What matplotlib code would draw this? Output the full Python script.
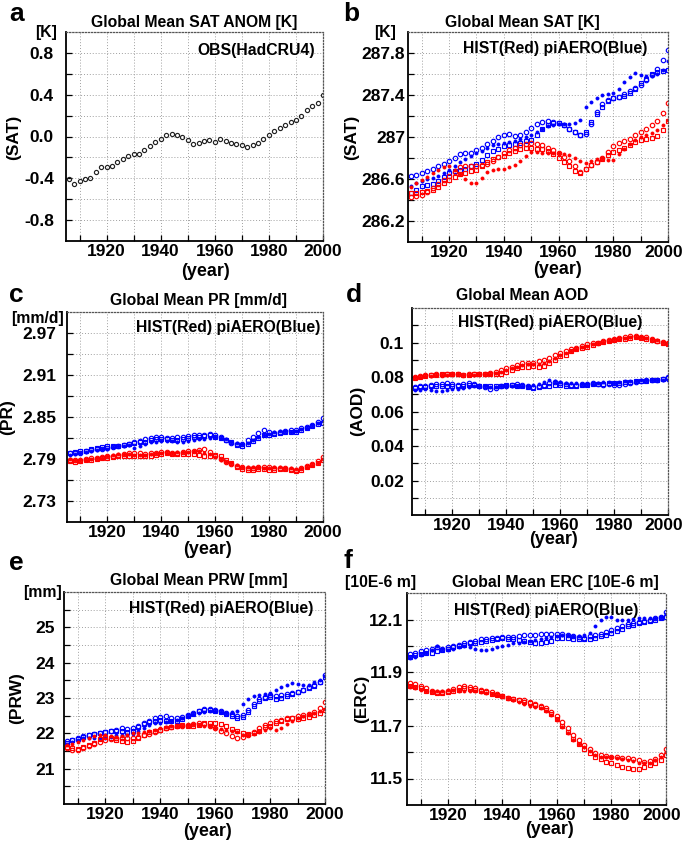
import matplotlib
matplotlib.use('Agg')
import matplotlib.pyplot as plt
from matplotlib.transforms import ScaledTranslation

plt.rcParams['font.family'] = ['Liberation Sans', 'DejaVu Sans']
plt.rcParams['font.weight'] = 'bold'

W, H = 685, 842
years = list(range(1906, 2001, 2))

# a: observed SAT anomaly
obs_sat = [-0.41, -0.45, -0.43, -0.41, -0.40, -0.34, -0.29, -0.29, -0.28, -0.24,
           -0.22, -0.19, -0.17, -0.17, -0.13, -0.09, -0.05, -0.02, 0.01, 0.02,
           0.01, 0.00, -0.03, -0.07, -0.06, -0.04, -0.03, -0.05, -0.02, -0.04,
           -0.06, -0.07, -0.08, -0.10, -0.08, -0.06, -0.02, 0.01, 0.05, 0.08,
           0.11, 0.14, 0.16, 0.20, 0.25, 0.29, 0.32, 0.40]

# b: SAT [K]
sat_hist = [
    [286.43, 286.44, 286.45, 286.48, 286.51, 286.55, 286.59, 286.63, 286.67, 286.71,
     286.72, 286.72, 286.72, 286.73, 286.74, 286.77, 286.81, 286.85, 286.88, 286.90,
     286.92, 286.93, 286.94, 286.93, 286.92, 286.90, 286.88, 286.85, 286.81, 286.77,
     286.72, 286.67, 286.70, 286.73, 286.76, 286.80, 286.86, 286.91, 286.94, 286.96,
     286.98, 287.02, 287.05, 287.08, 287.11, 287.15, 287.23, 287.32],
    [286.47, 286.47, 286.48, 286.49, 286.50, 286.52, 286.56, 286.59, 286.62, 286.65,
     286.66, 286.68, 286.69, 286.72, 286.76, 286.79, 286.81, 286.82, 286.85, 286.87,
     286.89, 286.90, 286.90, 286.89, 286.89, 286.87, 286.84, 286.80, 286.76, 286.72,
     286.68, 286.66, 286.70, 286.73, 286.76, 286.79, 286.83, 286.86, 286.88, 286.90,
     286.92, 286.95, 286.97, 286.98, 286.99, 287.01, 287.07, 287.15],
    [286.52, 286.56, 286.59, 286.62, 286.66, 286.69, 286.71, 286.72, 286.69, 286.65,
     286.60, 286.56, 286.56, 286.61, 286.67, 286.69, 286.70, 286.70, 286.71, 286.73,
     286.77, 286.82, 286.86, 286.86, 286.85, 286.85, 286.85, 286.85, 286.84, 286.83,
     286.80, 286.77, 286.75, 286.77, 286.79, 286.80, 286.78, 286.78, 286.84, 286.89,
     286.93, 286.97, 287.00, 287.02, 287.04, 287.07, 287.11, 287.16]]
sat_piaero = [
    [286.63, 286.64, 286.66, 286.68, 286.70, 286.72, 286.74, 286.77, 286.80, 286.84,
     286.85, 286.85, 286.88, 286.90, 286.93, 286.96, 287.00, 287.02, 287.03, 287.01,
     287.02, 287.05, 287.09, 287.12, 287.14, 287.15, 287.14, 287.13, 287.11, 287.08,
     287.05, 287.02, 287.03, 287.12, 287.24, 287.31, 287.35, 287.37, 287.38, 287.41,
     287.44, 287.47, 287.50, 287.54, 287.59, 287.65, 287.73, 287.83],
    [286.47, 286.50, 286.53, 286.54, 286.55, 286.58, 286.62, 286.66, 286.68, 286.69,
     286.70, 286.72, 286.74, 286.78, 286.83, 286.87, 286.89, 286.91, 286.92, 286.93,
     286.94, 286.96, 286.97, 287.02, 287.08, 287.11, 287.13, 287.13, 287.11, 287.08,
     287.05, 287.02, 287.05, 287.14, 287.22, 287.29, 287.34, 287.37, 287.38, 287.39,
     287.42, 287.46, 287.51, 287.55, 287.60, 287.62, 287.63, 287.64],
    [286.53, 286.56, 286.58, 286.60, 286.61, 286.63, 286.66, 286.69, 286.72, 286.76,
     286.79, 286.82, 286.85, 286.87, 286.90, 286.92, 286.93, 286.94, 286.95, 286.96,
     286.98, 287.00, 287.02, 287.05, 287.08, 287.10, 287.11, 287.12, 287.12, 287.12,
     287.13, 287.16, 287.29, 287.33, 287.37, 287.40, 287.41, 287.42, 287.46, 287.52,
     287.57, 287.61, 287.59, 287.58, 287.58, 287.60, 287.64, 287.72]]

# c: PR [mm/d]
pr_hist = [
    [2.789, 2.788, 2.789, 2.790, 2.791, 2.792, 2.793, 2.794, 2.795, 2.796,
     2.797, 2.798, 2.799, 2.798, 2.797, 2.798, 2.799, 2.800, 2.800, 2.799,
     2.799, 2.800, 2.801, 2.802, 2.803, 2.804, 2.800, 2.795, 2.790, 2.786,
     2.783, 2.780, 2.778, 2.777, 2.777, 2.778, 2.779, 2.778, 2.777, 2.777,
     2.777, 2.776, 2.775, 2.777, 2.780, 2.783, 2.787, 2.793],
    [2.787, 2.786, 2.787, 2.788, 2.789, 2.790, 2.791, 2.792, 2.793, 2.794,
     2.795, 2.795, 2.795, 2.794, 2.794, 2.795, 2.796, 2.797, 2.798, 2.797,
     2.797, 2.797, 2.797, 2.797, 2.796, 2.795, 2.795, 2.796, 2.794, 2.789,
     2.784, 2.779, 2.776, 2.775, 2.775, 2.776, 2.776, 2.775, 2.775, 2.776,
     2.776, 2.775, 2.773, 2.775, 2.778, 2.781, 2.785, 2.789],
    [2.790, 2.789, 2.789, 2.789, 2.790, 2.791, 2.792, 2.794, 2.796, 2.797,
     2.797, 2.797, 2.796, 2.796, 2.796, 2.797, 2.798, 2.799, 2.799, 2.799,
     2.800, 2.800, 2.800, 2.801, 2.801, 2.799, 2.797, 2.793, 2.789, 2.786,
     2.784, 2.781, 2.779, 2.778, 2.778, 2.778, 2.777, 2.777, 2.778, 2.778,
     2.777, 2.777, 2.776, 2.777, 2.779, 2.782, 2.785, 2.790]]
pr_piaero = [
    [2.798, 2.798, 2.799, 2.801, 2.803, 2.805, 2.805, 2.806, 2.807, 2.809,
     2.810, 2.811, 2.814, 2.816, 2.818, 2.820, 2.821, 2.821, 2.820, 2.820,
     2.821, 2.822, 2.823, 2.824, 2.825, 2.825, 2.826, 2.824, 2.821, 2.817,
     2.813, 2.811, 2.812, 2.817, 2.822, 2.827, 2.832, 2.828, 2.827, 2.829,
     2.830, 2.831, 2.832, 2.834, 2.836, 2.839, 2.843, 2.848],
    [2.799, 2.800, 2.801, 2.802, 2.804, 2.806, 2.807, 2.808, 2.808, 2.809,
     2.810, 2.812, 2.813, 2.814, 2.815, 2.817, 2.818, 2.819, 2.818, 2.817,
     2.817, 2.818, 2.820, 2.821, 2.822, 2.823, 2.824, 2.822, 2.820, 2.817,
     2.814, 2.810, 2.808, 2.812, 2.816, 2.820, 2.824, 2.825, 2.826, 2.827,
     2.828, 2.828, 2.829, 2.831, 2.834, 2.837, 2.840, 2.842],
    [2.796, 2.797, 2.798, 2.800, 2.802, 2.803, 2.804, 2.805, 2.807, 2.808,
     2.809, 2.810, 2.806, 2.809, 2.812, 2.814, 2.815, 2.816, 2.816, 2.816,
     2.815, 2.815, 2.816, 2.817, 2.818, 2.819, 2.820, 2.821, 2.820, 2.818,
     2.815, 2.813, 2.811, 2.813, 2.817, 2.821, 2.824, 2.826, 2.828, 2.830,
     2.830, 2.829, 2.830, 2.833, 2.835, 2.838, 2.841, 2.844]]

# d: AOD
aod_hist = [
    [0.0800, 0.0805, 0.0810, 0.0810, 0.0815, 0.0810, 0.0815, 0.0820, 0.0820, 0.0810,
     0.0815, 0.0820, 0.0820, 0.0820, 0.0825, 0.0830, 0.0840, 0.0850, 0.0860, 0.0870,
     0.0880, 0.0880, 0.0880, 0.0890, 0.0900, 0.0910, 0.0930, 0.0940, 0.0950, 0.0960,
     0.0970, 0.0980, 0.0990, 0.0995, 0.1000, 0.1010, 0.1015, 0.1020, 0.1025, 0.1030,
     0.1035, 0.1035, 0.1030, 0.1030, 0.1020, 0.1010, 0.1005, 0.1000],
    [0.0795, 0.0800, 0.0805, 0.0810, 0.0810, 0.0815, 0.0820, 0.0820, 0.0815, 0.0810,
     0.0810, 0.0815, 0.0820, 0.0820, 0.0820, 0.0820, 0.0820, 0.0830, 0.0840, 0.0855,
     0.0860, 0.0860, 0.0865, 0.0860, 0.0865, 0.0880, 0.0900, 0.0920, 0.0930, 0.0950,
     0.0960, 0.0970, 0.0975, 0.0985, 0.0995, 0.1005, 0.1010, 0.1015, 0.1020, 0.1020,
     0.1025, 0.1030, 0.1025, 0.1020, 0.1015, 0.1010, 0.1000, 0.0990],
    [0.0800, 0.0800, 0.0805, 0.0805, 0.0810, 0.0810, 0.0810, 0.0815, 0.0815, 0.0810,
     0.0810, 0.0810, 0.0815, 0.0815, 0.0820, 0.0825, 0.0830, 0.0840, 0.0850, 0.0860,
     0.0870, 0.0875, 0.0875, 0.0875, 0.0880, 0.0890, 0.0910, 0.0930, 0.0940, 0.0950,
     0.0965, 0.0975, 0.0980, 0.0990, 0.1000, 0.1005, 0.1010, 0.1020, 0.1020, 0.1025,
     0.1030, 0.1030, 0.1030, 0.1025, 0.1020, 0.1015, 0.1005, 0.0995]]
aod_piaero = [
    [0.0740, 0.0745, 0.0750, 0.0755, 0.0760, 0.0760, 0.0765, 0.0760, 0.0755, 0.0760,
     0.0765, 0.0760, 0.0750, 0.0740, 0.0730, 0.0735, 0.0745, 0.0750, 0.0755, 0.0760,
     0.0755, 0.0745, 0.0740, 0.0745, 0.0755, 0.0765, 0.0770, 0.0765, 0.0760, 0.0755,
     0.0755, 0.0760, 0.0760, 0.0765, 0.0760, 0.0755, 0.0760, 0.0755, 0.0755, 0.0760,
     0.0765, 0.0770, 0.0775, 0.0780, 0.0780, 0.0785, 0.0790, 0.0800],
    [0.0735, 0.0740, 0.0740, 0.0745, 0.0750, 0.0750, 0.0750, 0.0750, 0.0750, 0.0750,
     0.0755, 0.0755, 0.0750, 0.0745, 0.0745, 0.0745, 0.0750, 0.0755, 0.0755, 0.0750,
     0.0745, 0.0740, 0.0735, 0.0740, 0.0745, 0.0750, 0.0755, 0.0755, 0.0750, 0.0745,
     0.0750, 0.0755, 0.0755, 0.0760, 0.0760, 0.0760, 0.0765, 0.0765, 0.0765, 0.0770,
     0.0770, 0.0775, 0.0775, 0.0775, 0.0780, 0.0785, 0.0790, 0.0795],
    [0.0725, 0.0725, 0.0730, 0.0725, 0.0720, 0.0720, 0.0725, 0.0730, 0.0730, 0.0735,
     0.0740, 0.0745, 0.0745, 0.0745, 0.0740, 0.0740, 0.0745, 0.0745, 0.0750, 0.0750,
     0.0750, 0.0750, 0.0755, 0.0760, 0.0770, 0.0780, 0.0775, 0.0770, 0.0765, 0.0765,
     0.0765, 0.0760, 0.0760, 0.0760, 0.0765, 0.0770, 0.0770, 0.0765, 0.0770, 0.0775,
     0.0775, 0.0775, 0.0780, 0.0780, 0.0785, 0.0780, 0.0780, 0.0780]]

# e: PRW [mm]
prw_hist = [
    [21.58, 21.54, 21.52, 21.58, 21.64, 21.70, 21.76, 21.80, 21.84, 21.86,
     21.86, 21.86, 21.86, 21.90, 21.94, 21.98, 22.04, 22.10, 22.14, 22.18,
     22.20, 22.22, 22.24, 22.26, 22.28, 22.26, 22.22, 22.16, 22.08, 22.00,
     21.92, 21.86, 21.90, 21.96, 22.04, 22.14, 22.24, 22.30, 22.34, 22.38,
     22.42, 22.44, 22.48, 22.52, 22.56, 22.60, 22.72, 22.88],
    [21.62, 21.58, 21.56, 21.60, 21.66, 21.74, 21.84, 21.90, 21.88, 21.82,
     21.78, 21.76, 21.78, 21.86, 21.96, 22.04, 22.08, 22.10, 22.14, 22.18,
     22.22, 22.24, 22.22, 22.20, 22.24, 22.28, 22.30, 22.30, 22.26, 22.20,
     22.12, 22.06, 22.00, 21.98, 22.00, 22.08, 22.18, 22.22, 22.28, 22.34,
     22.40, 22.42, 22.40, 22.42, 22.46, 22.52, 22.58, 22.66],
    [21.66, 21.70, 21.76, 21.82, 21.88, 21.92, 21.94, 21.94, 21.92, 21.90,
     21.92, 21.96, 22.00, 22.02, 22.04, 22.06, 22.10, 22.14, 22.18, 22.20,
     22.20, 22.22, 22.24, 22.26, 22.24, 22.22, 22.20, 22.16, 22.12, 22.10,
     22.08, 22.04, 21.96, 21.94, 21.98, 22.04, 22.10, 22.14, 22.10, 22.16,
     22.26, 22.36, 22.44, 22.50, 22.54, 22.58, 22.62, 22.70]]
prw_piaero = [
    [21.78, 21.82, 21.88, 21.92, 21.96, 21.99, 22.02, 22.04, 22.06, 22.10,
     22.14, 22.12, 22.14, 22.20, 22.28, 22.36, 22.42, 22.46, 22.48, 22.44,
     22.42, 22.46, 22.52, 22.58, 22.64, 22.68, 22.68, 22.66, 22.62, 22.58,
     22.54, 22.48, 22.52, 22.66, 22.84, 22.96, 23.04, 23.08, 23.06, 23.08,
     23.12, 23.14, 23.18, 23.24, 23.30, 23.36, 23.46, 23.64],
    [21.74, 21.80, 21.84, 21.90, 21.94, 21.98, 22.02, 22.04, 22.06, 22.08,
     22.06, 22.04, 22.08, 22.18, 22.26, 22.32, 22.36, 22.38, 22.36, 22.34,
     22.34, 22.40, 22.48, 22.56, 22.62, 22.66, 22.66, 22.64, 22.60, 22.56,
     22.50, 22.44, 22.46, 22.60, 22.78, 22.92, 23.00, 23.02, 22.96, 23.00,
     23.06, 23.10, 23.16, 23.22, 23.28, 23.34, 23.44, 23.60],
    [21.70, 21.76, 21.82, 21.86, 21.88, 21.88, 21.86, 21.86, 21.90, 21.94,
     21.96, 21.96, 21.98, 22.06, 22.16, 22.24, 22.28, 22.30, 22.32, 22.34,
     22.38, 22.42, 22.48, 22.54, 22.58, 22.60, 22.62, 22.62, 22.60, 22.58,
     22.60, 22.64, 22.84, 22.98, 23.06, 23.08, 23.10, 23.14, 23.22, 23.30,
     23.38, 23.42, 23.40, 23.36, 23.38, 23.44, 23.52, 23.62]]

# f: ERC [10E-6 m]
erc_hist = [
    [11.862, 11.855, 11.848, 11.840, 11.832, 11.826, 11.825, 11.830, 11.838, 11.845,
     11.848, 11.845, 11.840, 11.835, 11.830, 11.825, 11.820, 11.812, 11.805, 11.800,
     11.798, 11.795, 11.790, 11.782, 11.775, 11.765, 11.750, 11.735, 11.715, 11.690,
     11.665, 11.645, 11.625, 11.610, 11.598, 11.590, 11.585, 11.582, 11.580, 11.578,
     11.578, 11.575, 11.568, 11.562, 11.565, 11.575, 11.590, 11.612],
    [11.850, 11.845, 11.840, 11.832, 11.825, 11.822, 11.822, 11.825, 11.830, 11.835,
     11.840, 11.838, 11.834, 11.830, 11.826, 11.820, 11.815, 11.810, 11.805, 11.800,
     11.795, 11.790, 11.785, 11.778, 11.770, 11.760, 11.745, 11.725, 11.700, 11.675,
     11.650, 11.630, 11.612, 11.595, 11.582, 11.572, 11.563, 11.557, 11.550, 11.545,
     11.540, 11.535, 11.535, 11.542, 11.550, 11.558, 11.570, 11.590],
    [11.845, 11.840, 11.835, 11.830, 11.830, 11.830, 11.832, 11.835, 11.835, 11.832,
     11.830, 11.830, 11.830, 11.828, 11.824, 11.820, 11.815, 11.810, 11.804, 11.798,
     11.790, 11.782, 11.775, 11.770, 11.765, 11.755, 11.740, 11.720, 11.695, 11.670,
     11.645, 11.630, 11.620, 11.605, 11.590, 11.583, 11.580, 11.582, 11.578, 11.575,
     11.570, 11.565, 11.560, 11.558, 11.560, 11.570, 11.582, 11.600]]
erc_piaero = [
    [11.970, 11.975, 11.980, 11.985, 11.990, 11.995, 11.990, 11.995, 12.000, 12.005,
     12.010, 12.015, 12.020, 12.025, 12.028, 12.030, 12.032, 12.033, 12.033, 12.035,
     12.038, 12.040, 12.042, 12.043, 12.044, 12.045, 12.046, 12.046, 12.044, 12.040,
     12.036, 12.034, 12.032, 12.036, 12.040, 12.045, 12.052, 12.060, 12.068, 12.075,
     12.082, 12.088, 12.092, 12.096, 12.100, 12.104, 12.110, 12.130],
    [11.960, 11.965, 11.970, 11.972, 11.975, 11.980, 11.985, 11.990, 11.995, 12.000,
     12.005, 12.010, 12.012, 12.015, 12.018, 12.022, 12.026, 12.030, 12.028, 12.025,
     12.022, 12.018, 12.015, 12.012, 12.012, 12.015, 12.020, 12.030, 12.032, 12.030,
     12.028, 12.027, 12.026, 12.028, 12.032, 12.036, 12.042, 12.050, 12.058, 12.066,
     12.074, 12.080, 12.086, 12.090, 12.095, 12.100, 12.105, 12.110],
    [11.955, 11.960, 11.965, 11.975, 11.985, 12.000, 11.990, 11.985, 11.990, 11.995,
     12.000, 11.995, 11.990, 11.985, 11.985, 11.990, 11.995, 12.000, 12.005, 12.010,
     12.012, 12.015, 12.018, 12.022, 12.026, 12.030, 12.034, 12.038, 12.040, 12.040,
     12.038, 12.036, 12.040, 12.050, 12.075, 12.100, 12.110, 12.108, 12.100, 12.098,
     12.100, 12.103, 12.105, 12.106, 12.106, 12.106, 12.110, 12.120]]

xticks = [1920, 1940, 1960, 1980, 2000]
xgrid = [1910, 1930, 1950, 1970, 1990]


def fig_xy(x, y):
    return x / W, 1 - y / H


def make_axes(box):
    l, r, t, b = box
    return fig.add_axes([l / W, 1 - b / H, (r - l) / W, (b - t) / H])


def style_axes(ax, ylim, yticks, ylabels, yminor, ypad):
    ax.set_xlim(1905, 2000)
    ax.set_ylim(*ylim)
    ax.set_xticks(xticks, [str(v) for v in xticks])
    ax.set_xticks(xgrid, minor=True)
    ax.set_yticks(yticks, ylabels)
    ax.set_yticks(yminor, minor=True)
    ax.grid(True, which='both', ls=(0, (1, 2)), color='#a0a0a0', lw=0.7)
    ax.set_axisbelow(True)
    for s in ['top', 'right']:
        ax.spines[s].set_linestyle((0, (1, 1.5)))
        ax.spines[s].set_color('#555555')
        ax.spines[s].set_linewidth(0.9)
    for s in ['left', 'bottom']:
        ax.spines[s].set_linewidth(1.3)
    ax.tick_params(which='both', direction='in', length=4, width=0.9,
                   top=False, right=False, labelsize=12.5)
    ax.tick_params(axis='x', pad=2)
    ax.tick_params(axis='y', pad=ypad * 0.72)
    for lab in ax.get_xticklabels() + ax.get_yticklabels():
        lab.set_fontweight('bold')


marks = [dict(marker='o', ms=3.2, mfc='none', mew=0.85),
         dict(marker='s', ms=3.0, mfc='none', mew=0.85),
         dict(marker='o', ms=2.2, mew=0.6)]


def draw_members(ax, hist, piaero):
    for i, vals in enumerate(piaero):
        ax.plot(years, vals, ls='none', color='#0000ff', **marks[i])
    for i, vals in enumerate(hist):
        ax.plot(years, vals, ls='none', color='#ff0000', **marks[i])


fig = plt.figure(figsize=(W / 100, H / 100), dpi=100)

panels = [
    dict(box=(66, 323, 32, 241), letter='a', lpos=(9, 21),
         title='Global Mean SAT ANOM [K]', tpos=(194, 22),
         unit='[K]', upos=(46, 33), ylab='(SAT)', ypos=(14, 137),
         xlpos=(205, 271), note='OBS(HadCRU4)', npos=(315, 51),
         ylim=(-1.0, 1.0), yt=[-0.8, -0.4, 0.0, 0.4, 0.8],
         ytl=['-0.8', '-0.4', '0.0', '0.4', '0.8'],
         ym=[-0.6, -0.2, 0.2, 0.6], ypad=12),
    dict(box=(408, 668, 32, 242), letter='b', lpos=(343, 21),
         title='Global Mean SAT [K]', tpos=(522, 22),
         unit='[K]', upos=(385, 32), ylab='(SAT)', ypos=(352, 137),
         xlpos=(558, 270), note='HIST(Red) piAERO(Blue)', npos=(647, 48),
         ylim=(286.0, 288.0), yt=[286.2, 286.6, 287.0, 287.4, 287.8],
         ytl=['286.2', '286.6', '287', '287.4', '287.8'],
         ym=[286.4, 286.8, 287.2, 287.6], ypad=3),
    dict(box=(67, 323, 312, 522), letter='c', lpos=(9, 302),
         title='Global Mean PR [mm/d]', tpos=(199, 301),
         unit='[mm/d]', upos=(37, 319), ylab='(PR)', ypos=(8, 417),
         xlpos=(207, 550), note='HIST(Red) piAERO(Blue)', npos=(320, 327),
         ylim=(2.70, 3.00), yt=[2.73, 2.79, 2.85, 2.91, 2.97],
         ytl=['2.73', '2.79', '2.85', '2.91', '2.97'],
         ym=[2.76, 2.82, 2.88, 2.94], ypad=11),
    dict(box=(412, 668, 308, 515), letter='d', lpos=(346, 302),
         title='Global Mean AOD', tpos=(522, 296),
         unit='', upos=(0, 0), ylab='(AOD)', ypos=(358, 411),
         xlpos=(554, 540), note='HIST(Red) piAERO(Blue)', npos=(642, 323),
         ylim=(0.0, 0.12), yt=[0.02, 0.04, 0.06, 0.08, 0.1],
         ytl=['0.02', '0.04', '0.06', '0.08', '0.1'],
         ym=[0.01, 0.03, 0.05, 0.07, 0.09, 0.11], ypad=8),
    dict(box=(64, 325, 592, 804), letter='e', lpos=(9, 570),
         title='Global Mean PRW [mm]', tpos=(199, 581),
         unit='[mm]', upos=(43, 592), ylab='(PRW)', ypos=(17, 698),
         xlpos=(208, 831), note='HIST(Red) piAERO(Blue)', npos=(313, 608),
         ylim=(20.0, 26.0), yt=[21, 22, 23, 24, 25],
         ytl=['21', '22', '23', '24', '25'],
         ym=[20.5, 21.5, 22.5, 23.5, 24.5, 25.5], ypad=9),
    dict(box=(407, 666, 593, 805), letter='f', lpos=(344, 568),
         title='Global Mean ERC [10E-6 m]', tpos=(555, 582),
         unit='[10E-6 m]', upos=(381, 582), ylab='(ERC)', ypos=(362, 699),
         xlpos=(549, 830), note='HIST(Red) piAERO(Blue)', npos=(638, 610),
         ylim=(11.4, 12.2), yt=[11.5, 11.7, 11.9, 12.1],
         ytl=['11.5', '11.7', '11.9', '12.1'],
         ym=[11.6, 11.8, 12.0], ypad=4),
]

series = [None, (sat_hist, sat_piaero), (pr_hist, pr_piaero),
          (aod_hist, aod_piaero), (prw_hist, prw_piaero), (erc_hist, erc_piaero)]

for k, (p, data) in enumerate(zip(panels, series)):
    ax = make_axes(p['box'])
    if data is None:
        ax.plot(years, obs_sat, ls='none', color='#222222', marker='o', ms=3.0,
                mfc='none', mew=0.85)
    else:
        draw_members(ax, *data)
    style_axes(ax, p['ylim'], p['yt'], p['ytl'], p['ym'], p['ypad'])
    if k % 2 == 1:
        # keep the last year label inside the figure on the right column
        last = ax.get_xticklabels()[-1]
        last.set_transform(last.get_transform() +
                           ScaledTranslation(-4 / 100, 0, fig.dpi_scale_trans))

    fig.text(*fig_xy(*p['lpos']), p['letter'], fontsize=19, fontweight='bold',
             ha='left', va='baseline')
    fig.text(*fig_xy(*p['tpos']), p['title'], fontsize=11.3, fontweight='bold',
             ha='center', va='center')
    if p['unit']:
        fig.text(*fig_xy(*p['upos']), p['unit'], fontsize=11.3, fontweight='bold',
                 ha='center', va='center')
    fig.text(*fig_xy(*p['ypos']), p['ylab'], fontsize=12.5, fontweight='bold',
             ha='center', va='center', rotation=90)
    fig.text(*fig_xy(*p['xlpos']), '(year)', fontsize=13, fontweight='bold',
             ha='center', va='center')
    fig.text(*fig_xy(*p['npos']), p['note'], fontsize=11.3, fontweight='bold',
             ha='right', va='center')

fig.savefig('out.png', dpi=100)
